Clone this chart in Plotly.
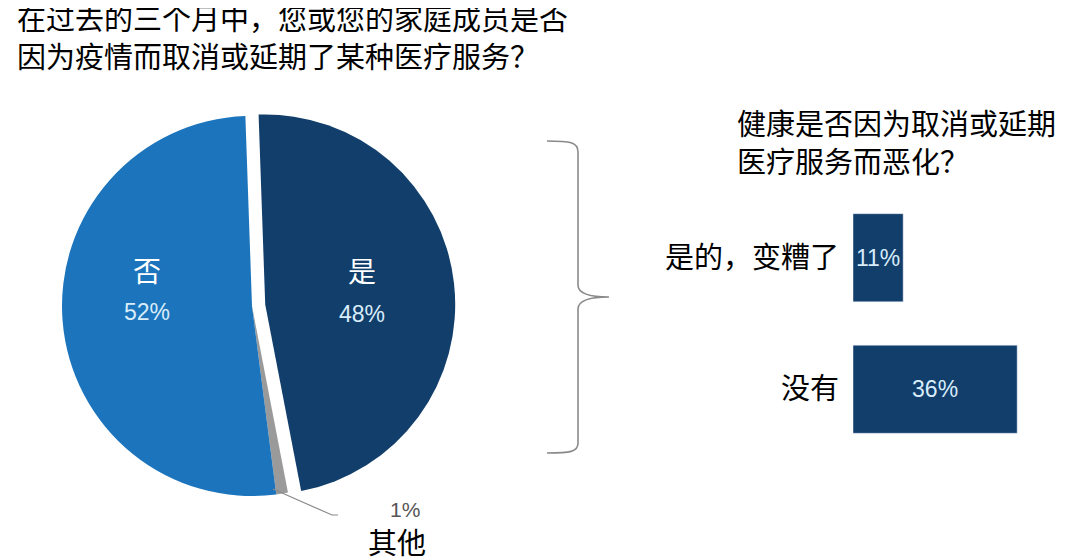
import plotly.graph_objects as go

# pie: cancelled / postponed care
pie_labels = ["是", "其他", "否"]
pie_values = [48, 1, 52]
pie_colors = ["#123e6b", "#9a9a9a", "#1c75bc"]

# bar: health got worse
bar_labels = ["是的，变糟了", "没有"]
bar_values = [11, 36]

title_left = "在过去的三个月中，您或您的家庭成员是否<br>因为疫情而取消或延期了某种医疗服务？"
title_right = "健康是否因为取消或延期<br>医疗服务而恶化？"

W, H = 1080, 560
CJK = "Noto Sans CJK SC"
NUM = "Liberation Sans, Arial, sans-serif"
LIGHT = "#d8ecfa"
OFF = 8  # page body margin


# screen pixels -> paper fractions
def px(x):
    return (x - OFF) / W


def py(y):
    return 1 - (y - OFF) / H


fig = go.Figure()

# pie centre (252, 306), radius 190, pull 0.07
cx, cy, r, pull = 252, 306, 190, 0.07
half = r * (1 + pull)
fig.add_trace(go.Pie(
    labels=pie_labels,
    values=pie_values,
    sort=False,
    direction="clockwise",
    rotation=-2,
    pull=[pull, 0, 0],
    marker=dict(colors=pie_colors, line=dict(width=0)),
    textinfo="none",
    hoverinfo="label+value",
    showlegend=False,
    domain=dict(x=[px(cx - half), px(cx + half)], y=[py(cy + half), py(cy - half)]),
))

fig.add_trace(go.Bar(
    x=bar_values,
    y=bar_labels,
    orientation="h",
    marker=dict(color="#123e6b"),
    text=[f"{v}%" for v in bar_values],
    textposition="inside",
    insidetextanchor="middle",
    textangle=0,
    constraintext="none",
    textfont=dict(family=NUM, size=23, color=LIGHT),
    showlegend=False,
))

# x: 4.56 px per percent, bars start at 853 px
x0, x1 = 853, 1060
fig.update_layout(
    width=W,
    height=H,
    margin=dict(l=0, r=0, t=0, b=0),
    paper_bgcolor="white",
    plot_bgcolor="white",
    font=dict(family=CJK, color="black"),
    bargap=0.33,
    xaxis=dict(
        domain=[px(x0), px(x1)],
        range=[0, (x1 - x0) / 4.56],
        visible=False,
    ),
    yaxis=dict(
        domain=[py(455), py(192)],
        autorange="reversed",
        showgrid=False,
        zeroline=False,
        showline=False,
        ticks="",
        ticklabelstandoff=13,
        tickfont=dict(family=CJK, size=29, color="black"),
    ),
)

annotations = [
    dict(text=title_left, x=px(15), y=py(36), xanchor="left", yanchor="middle",
         align="left", font=dict(family=CJK, size=29, color="black")),
    dict(text=title_right, x=px(735), y=py(141), xanchor="left", yanchor="middle",
         align="left", font=dict(family=CJK, size=29, color="black")),
    # slice labels
    dict(text=pie_labels[2], x=px(147), y=py(270),
         font=dict(family=CJK, size=28, color="white")),
    dict(text=f"{pie_values[2]}%", x=px(147), y=py(312),
         font=dict(family=NUM, size=23, color=LIGHT)),
    dict(text=pie_labels[0], x=px(362), y=py(270),
         font=dict(family=CJK, size=28, color="white")),
    dict(text=f"{pie_values[0]}%", x=px(362), y=py(314),
         font=dict(family=NUM, size=23, color=LIGHT)),
    dict(text=f"{pie_values[1]}%", x=px(405), y=py(509),
         font=dict(family=NUM, size=21, color="#555555")),
    dict(text=pie_labels[1], x=px(397), y=py(541),
         font=dict(family=CJK, size=29, color="black")),
]
for a in annotations:
    a.setdefault("xanchor", "center")
    a.setdefault("yanchor", "middle")
    a.update(xref="paper", yref="paper", showarrow=False)
fig.update_layout(annotations=annotations)


def pt(x, y):
    return f"{px(x):.5f},{py(y):.5f}"


brace = (
    f"M {pt(547, 141)} C {pt(570, 141)} {pt(578, 142)} {pt(578, 152)} "
    f"L {pt(578, 285)} C {pt(578, 294)} {pt(590, 297)} {pt(609, 297)} "
    f"C {pt(590, 297)} {pt(578, 300)} {pt(578, 309)} "
    f"L {pt(578, 443)} C {pt(578, 452)} {pt(570, 453)} {pt(547, 453)}"
)
leader = f"M {pt(273, 489)} L {pt(332, 515)} L {pt(338, 515)}"

fig.update_layout(shapes=[
    dict(type="path", path=brace, xref="paper", yref="paper",
         line=dict(color="#8a8a8a", width=1.6)),
    dict(type="path", path=leader, xref="paper", yref="paper",
         line=dict(color="#8a8a8a", width=1.2)),
])

fig.write_html("out.html")
